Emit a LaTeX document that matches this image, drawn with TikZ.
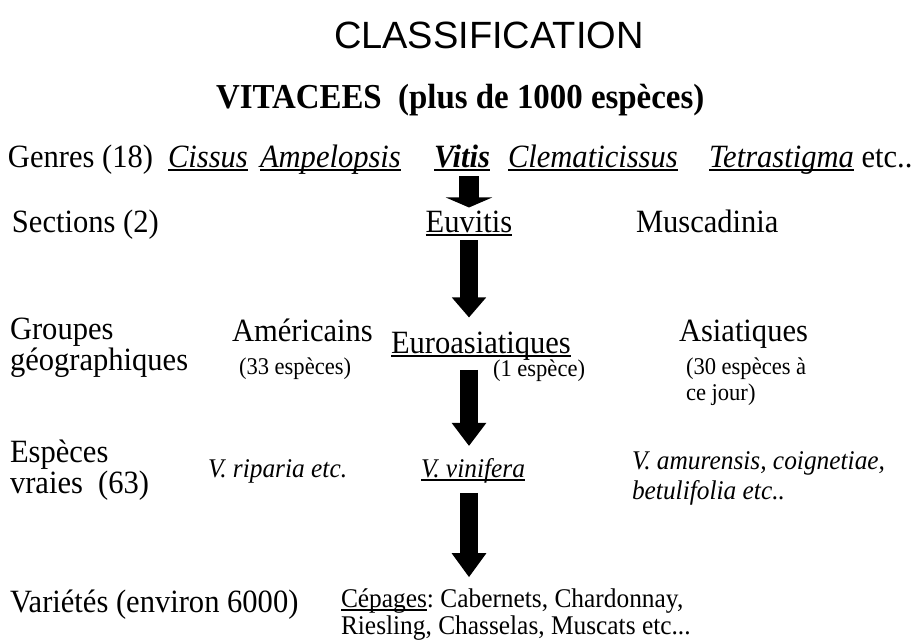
\documentclass[tikz,border=0pt]{standalone}
\usepackage{fontspec}
\setmainfont[FakeStretch=0.94]{Liberation Serif}
\newfontfamily\arialf{Liberation Sans}
\usetikzlibrary{arrows.meta}
\frenchspacing
\newcommand\myul[1]{{\setbox0\hbox{#1}\rlap{\rule[-4pt]{\wd0}{1.6pt}}\box0}}
\newcommand\fbig{\fontsize{32.5pt}{30pt}\selectfont}
\newcommand\fmed{\fontsize{27pt}{25pt}\selectfont}
\newcommand\fsmall{\fontsize{24pt}{22.5pt}\selectfont}
\tikzset{
  txt/.style={inner sep=0pt,outer sep=0pt,anchor=base west},
  txtc/.style={inner sep=0pt,outer sep=0pt,anchor=base},
  bigarrowA/.style={line width=20pt,-{Triangle[width=46pt,length=10pt]}},
  bigarrow/.style={line width=18pt,-{Triangle[width=33pt,length=#1]}},
}
\begin{document}
\begin{tikzpicture}[x=1pt,y=-1pt]
\useasboundingbox (0,0) rectangle (919,640);
\node[txt] (classif) at (334,48) {\arialf\fontsize{38pt}{38pt}\selectfont CLASSIFICATION};
\node[txt] (vitacees) at (216,108) {\fontsize{35pt}{35pt}\selectfont\bfseries VITACEES\ \ (plus de 1000 espèces)};
% Genres
\node[txt] (genres) at (8,167) {\fbig Genres (18)};
\node[txt] (cissus) at (168,167) {\fbig\itshape\myul{Cissus}};
\node[txt] (ampel) at (260,167) {\fbig\itshape\myul{Ampelopsis}};
\node[txt] (vitis) at (434,167) {\fbig\bfseries\itshape\myul{Vitis}};
\node[txt] (clem) at (508,167) {\fbig\itshape\myul{Clematicissus}};
\node[txt] (tetra) at (709,167) {\fbig\itshape\myul{Tetrastigma}};
\node[txt] (etcg) at (tetra.base east) {\fbig\ etc..};
% Sections
\node[txt] (sections) at (12,232) {\fbig Sections (2)};
\node[txtc] (euvitis) at (469,232) {\fbig\myul{Euvitis}};
\node[txt] (musc) at (636,232) {\fbig Muscadinia};
% Groupes
\node[txt] (groupes) at (10,339) {\fbig Groupes};
\node[txt] (geo) at (10,370) {\fbig géographiques};
\node[txt] (amer) at (232,341) {\fbig Américains};
\node[txt] (amern) at (239,374) {\fsmall (33 espèces)};
\node[txt] (euro) at (391,353) {\fbig\myul{Euroasiatiques}};
\node[txt] (euron) at (493,376) {\fsmall (1 espèce)};
\node[txt] (asia) at (679,341) {\fbig Asiatiques};
\node[txt] (asian) at (686,374) {\fsmall (30 espèces à};
\node[txt] (asian2) at (686,400) {\fsmall ce jour)};
% Especes
\node[txt] (esp) at (10,462) {\fbig Espèces};
\node[txt] (vraies) at (10,493) {\fbig vraies\ \ (63)};
\node[txt] (ripa) at (208,477) {\fmed\itshape V. riparia etc.};
\node[txtc] (vinif) at (473,477) {\fmed\itshape\myul{V. vinifera}};
\node[txt] (amur) at (632,469) {\fmed\itshape V. amurensis, coignetiae,};
\node[txt] (betu) at (632,499) {\fmed\itshape betulifolia etc..};
% Varietes
\node[txt] (var) at (10,612) {\fbig Variétés (environ 6000)};
\node[txt] (cep) at (341,607) {\fmed\myul{Cépages}: Cabernets, Chardonnay,};
\node[txt] (cep2) at (341,634) {\fmed Riesling, Chasselas, Muscats etc...};
% arrows
\draw[bigarrowA,shorten <=5pt,shorten >=3pt] (euvitis.north |- vitis.south) -- (euvitis.north);
\draw[bigarrow=20pt,shorten <=4pt,shorten >=14pt] (euvitis.south) -- (euvitis.south |- euro.north);
\draw[bigarrow=23pt,shorten <=10pt,shorten >=12pt] (euvitis.south |- euro.south) -- (euvitis.south |- vinif.north);
\draw[bigarrow=24pt,shorten <=10pt,shorten >=11pt] (euvitis.south |- vinif.south) -- (euvitis.south |- cep.north);
\end{tikzpicture}
\end{document}
